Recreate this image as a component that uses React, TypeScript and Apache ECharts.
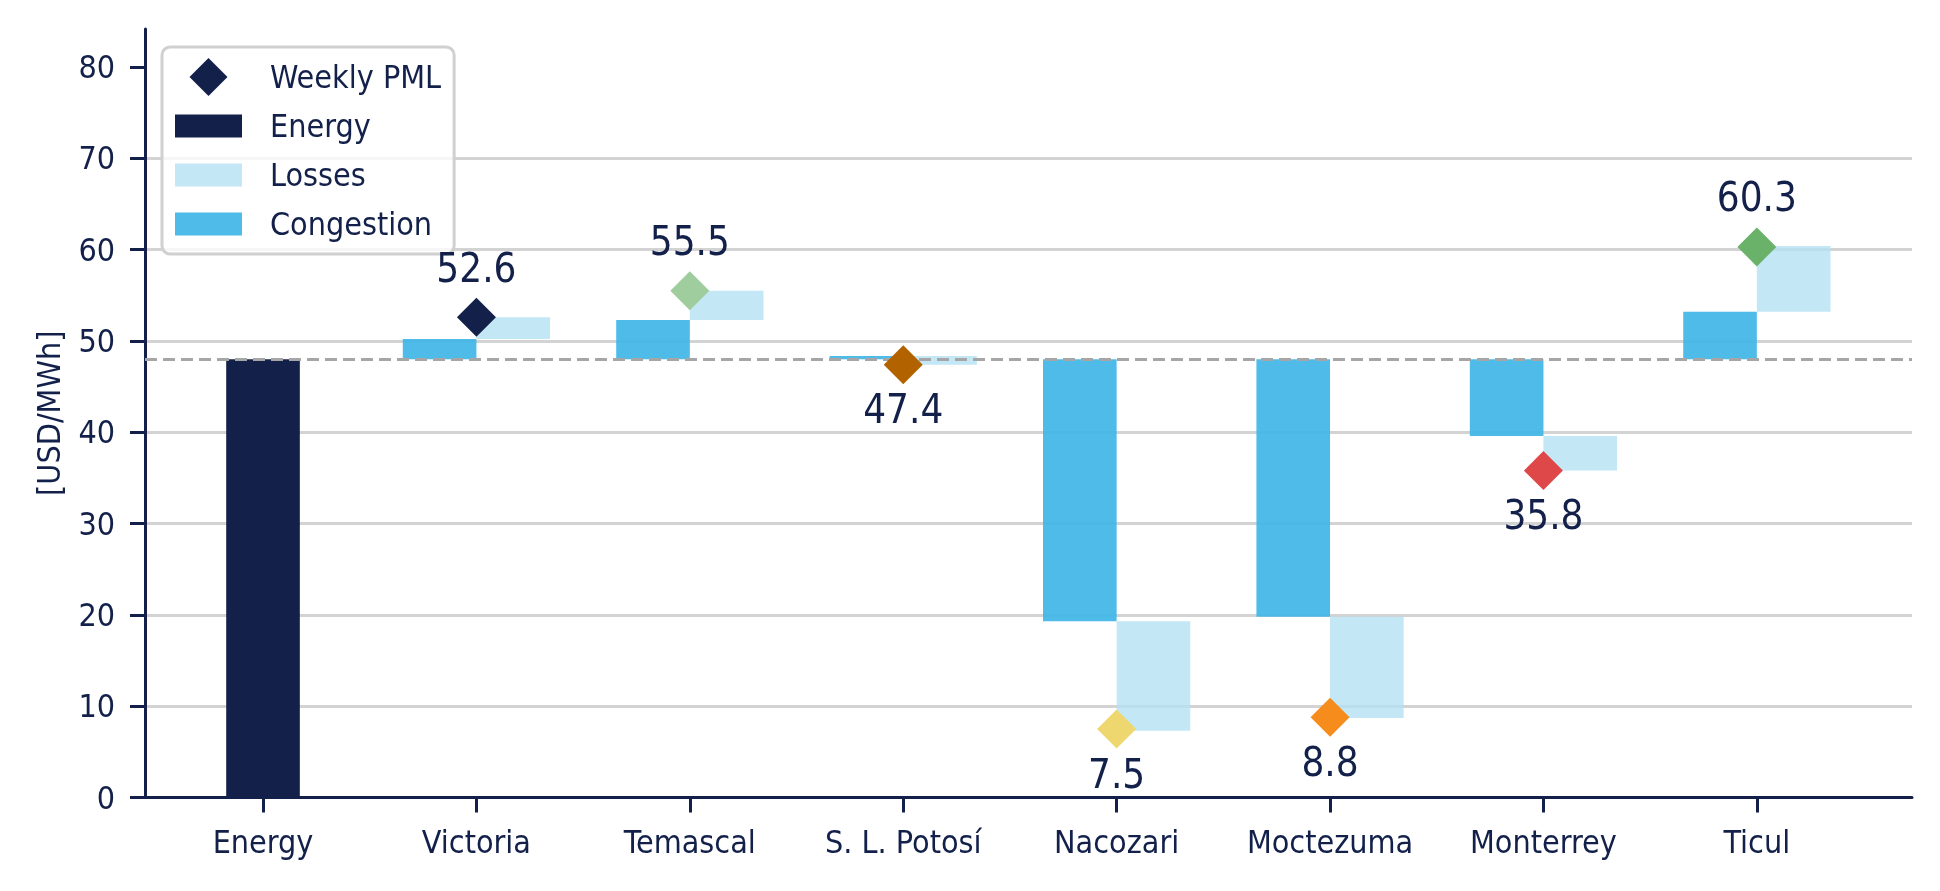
import * as echarts from "echarts";
import { useEffect, useRef } from "react";

// 数据
const categories = [
  "Energy",
  "Victoria",
  "Temascal",
  "S. L. Potosí",
  "Nacozari",
  "Moctezuma",
  "Monterrey",
  "Ticul",
];
const energyValue = 48.0;
const congestion = [2.2, 4.3, 0.35, -28.7, -28.2, -8.4, 5.2];
const losses = [2.4, 3.2, -0.95, -12.0, -11.1, -3.8, 7.2];
const weeklyPml = [52.6, 55.5, 47.4, 7.5, 8.8, 35.8, 60.3];
const pmlColors = [
  "#12204a",
  "#a0cd9e",
  "#b36200",
  "#efd770",
  "#f58c1b",
  "#de4848",
  "#6ab26a",
];
const yTicks = [0, 10, 20, 30, 40, 50, 60, 70, 80];
const xTicks = [0, 1, 2, 3, 4, 5, 6, 7];

const NAVY = "#12204a";
const CONGESTION = "rgba(65, 182, 230, 0.93)";
const LOSSES = "rgba(180, 225, 243, 0.8)";
const FONT = '"DejaVu Sans Condensed", "DejaVu Sans", sans-serif';
const BAR_W = 0.345;

function floatingBar(offset: number, color: string) {
  return (_params: unknown, api: any) => {
    const x = api.value(0);
    const lo = api.value(1);
    const hi = api.value(2);
    const p0 = api.coord([x + offset, Math.max(lo, hi)]);
    const p1 = api.coord([x + offset + BAR_W, Math.min(lo, hi)]);
    return {
      type: "rect",
      shape: { x: p0[0], y: p0[1], width: p1[0] - p0[0], height: p1[1] - p0[1] },
      style: { fill: color },
    };
  };
}

function App() {
  const chartRef = useRef<HTMLDivElement>(null);

  useEffect(() => {
    if (!chartRef.current) return;
    const chart = echarts.init(chartRef.current, null, { renderer: "svg" });

    const energyData = [[0, 0, energyValue]];
    const congestionData = congestion.map((c, i) => [i + 1, energyValue, energyValue + c]);
    const lossesData = losses.map((l, i) => [
      i + 1,
      energyValue + congestion[i],
      energyValue + congestion[i] + l,
    ]);
    const pmlData = weeklyPml.map((v, i) => {
      const above = v >= energyValue;
      return {
        value: [i + 1, v],
        itemStyle: { color: pmlColors[i] },
        label: { position: above ? "top" : "bottom", distance: above ? 10 : 5 },
      };
    });

    const rectIcon = "path://M0,0H67V23H0Z";

    chart.setOption({
      animation: false,
      textStyle: { fontFamily: FONT },
      grid: { left: 145, right: 28, top: 29, bottom: 93.5 },
      legend: {
        orient: "vertical",
        left: 162,
        top: 47,
        padding: [11, 13, 11, 13],
        itemWidth: 67,
        itemHeight: 38,
        itemGap: 11,
        backgroundColor: "rgba(255,255,255,0.8)",
        borderColor: "#d0d0d0",
        borderWidth: 3,
        borderRadius: 8,
        textStyle: {
          fontSize: 32,
          lineHeight: 38,
          color: NAVY,
          fontFamily: FONT,
          padding: [0, 0, 0, 23],
        },
        data: [
          {
            name: "Weekly PML",
            icon: "path://M19,0L38,19L19,38L0,19Z",
            itemStyle: { color: NAVY, borderWidth: 0 },
          },
          { name: "Energy", icon: rectIcon, itemStyle: { color: NAVY, borderWidth: 0 } },
          { name: "Losses", icon: rectIcon, itemStyle: { color: LOSSES, borderWidth: 0 } },
          {
            name: "Congestion",
            icon: rectIcon,
            itemStyle: { color: CONGESTION, borderWidth: 0 },
          },
        ],
      },
      xAxis: {
        type: "value",
        min: -0.553,
        max: 7.727,
        axisLine: { show: true, onZero: false, lineStyle: { color: NAVY, width: 3 } },
        axisTick: {
          show: true,
          customValues: xTicks,
          length: 15,
          lineStyle: { color: NAVY, width: 3 },
        },
        axisLabel: {
          customValues: xTicks,
          formatter: (v: number) => categories[Math.round(v)] ?? "",
          fontSize: 32,
          color: NAVY,
          fontFamily: FONT,
          margin: 28,
        },
        splitLine: { show: false },
      },
      yAxis: {
        type: "value",
        min: 0,
        max: 84.16,
        interval: 10,
        name: "[USD/MWh]",
        nameLocation: "middle",
        nameGap: 80,
        nameTextStyle: { fontSize: 32, color: NAVY, fontFamily: FONT },
        axisLine: { show: true, onZero: false, lineStyle: { color: NAVY, width: 3 } },
        axisTick: {
          show: true,
          customValues: yTicks,
          length: 15,
          lineStyle: { color: NAVY, width: 3 },
        },
        axisLabel: {
          customValues: yTicks,
          fontSize: 32,
          color: NAVY,
          fontFamily: FONT,
          margin: 30,
        },
        splitLine: {
          show: true,
          showMaxLine: false,
          lineStyle: { color: "#d3d3d3", width: 3 },
        },
      },
      series: [
        {
          name: "Energy",
          type: "custom",
          renderItem: floatingBar(-BAR_W / 2, NAVY),
          itemStyle: { color: NAVY },
          encode: { x: 0, y: [1, 2] },
          data: energyData,
          z: 2,
        },
        {
          name: "Congestion",
          type: "custom",
          renderItem: floatingBar(-BAR_W, CONGESTION),
          itemStyle: { color: CONGESTION },
          encode: { x: 0, y: [1, 2] },
          data: congestionData,
          z: 2,
        },
        {
          name: "Losses",
          type: "custom",
          renderItem: floatingBar(0, LOSSES),
          itemStyle: { color: LOSSES },
          encode: { x: 0, y: [1, 2] },
          data: lossesData,
          z: 2,
        },
        {
          name: "Weekly PML",
          type: "scatter",
          symbol: "diamond",
          symbolSize: 39,
          z: 10,
          itemStyle: { opacity: 1 },
          label: {
            show: true,
            fontSize: 40,
            color: NAVY,
            fontFamily: FONT,
            formatter: (p: any) => p.value[1].toFixed(1),
          },
          data: pmlData,
          markLine: {
            silent: true,
            symbol: "none",
            z: 5,
            label: { show: false },
            lineStyle: { color: "#a6a6a6", width: 3, type: [12, 6] },
            data: [{ yAxis: energyValue }],
          },
        },
      ],
    });

    return () => {
      chart.dispose();
    };
  }, []);

  return (
    <div
      ref={chartRef}
      style={{ position: "fixed", left: 0, top: 0, width: 1940, height: 891 }}
    />
  );
}

export default App;
